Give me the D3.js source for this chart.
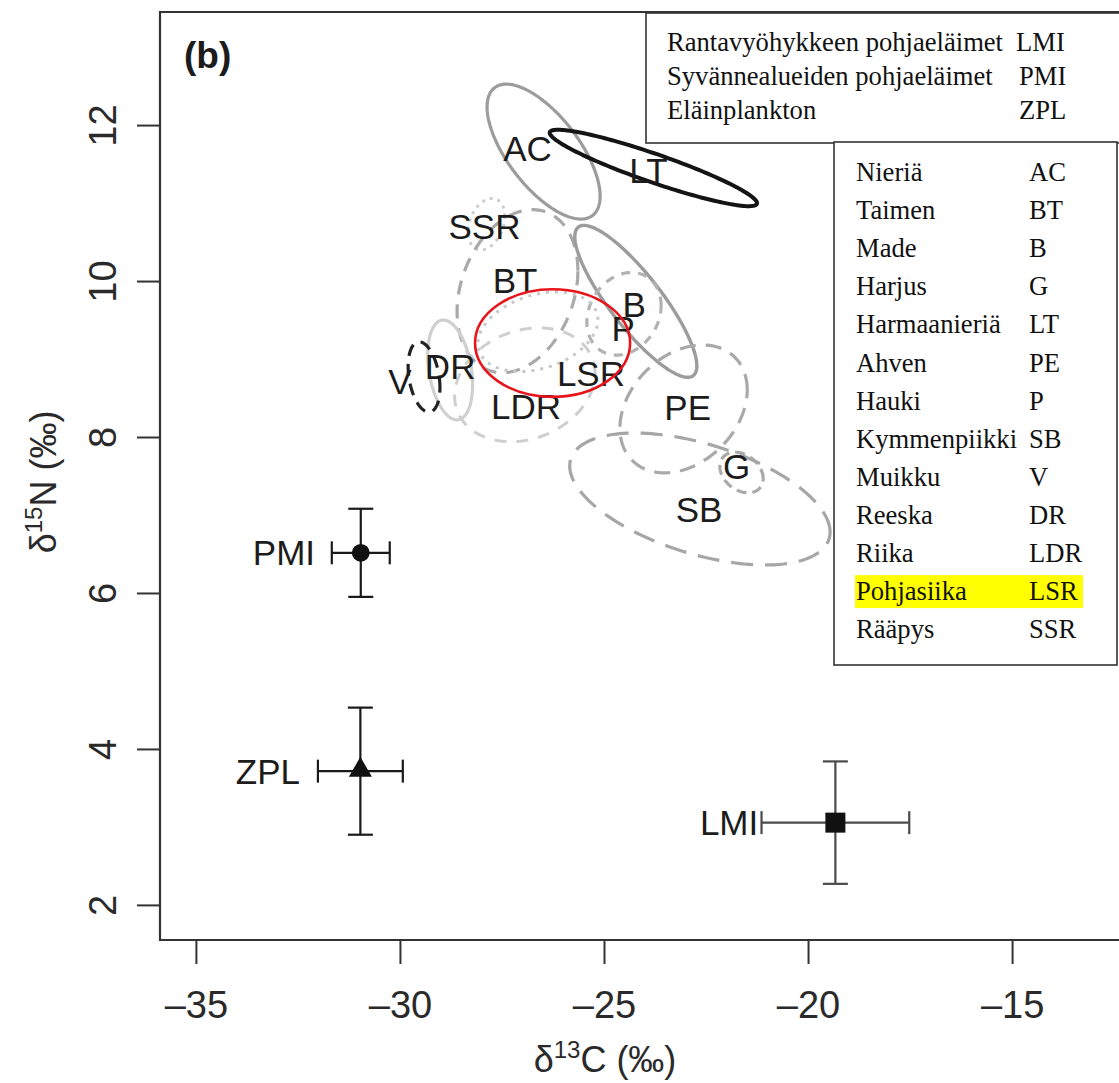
<!DOCTYPE html>
<html><head><meta charset="utf-8">
<script src="https://cdn.jsdelivr.net/npm/d3@7"></script>
<style>html,body{margin:0;padding:0;background:#fff}</style>
</head><body>
<svg id="chart" width="1119" height="1083"></svg>
<script>
// ---------- data ----------
const xTicks = [-35, -30, -25, -20, -15];
const yTicks = [2, 4, 6, 8, 10, 12];

const ellipseCodes = ["AC", "LT", "SSR", "BT", "B", "P", "DR", "V", "LSR", "LDR", "PE", "G", "SB"];
const ellipseCX   = [-26.48, -23.79, -27.88, -27.12, -24.22, -24.51, -28.77, -29.41, -26.62, -26.94, -23.05, -21.63, -22.65];
const ellipseCY   = [11.66, 11.45, 10.73, 9.87, 9.74, 9.58, 8.86, 8.77, 9.35, 8.67, 8.36, 7.545, 7.205];
const ellipseSX   = [1.385, 2.54, 0.45, 1.48, 1.495, 0.91, 0.55, 0.39, 1.47, 1.72, 1.56, 0.53, 3.19];
const ellipseSY   = [0.865, 0.49, 0.33, 1.045, 0.974, 0.53, 0.64, 0.45, 0.51, 0.73, 0.82, 0.26, 0.846];
const ellipseRho  = [-0.66, -0.92, 0.3, 0.25, -0.85, 0.2, -0.3, -0.3, 0.3, 0.2, 0.3, -0.3, -0.5];
const labelX      = [-26.875, -23.91, -27.93, -27.18, -24.26, -24.53, -28.77, -30.0, -25.32, -26.91, -22.95, -21.75, -22.67];
const labelY      = [11.70, 11.42, 10.70, 10.01, 9.70, 9.39, 8.90, 8.71, 8.81, 8.39, 8.38, 7.62, 7.07];

const srcCodes  = ["PMI", "ZPL", "LMI"];
const srcX      = [-30.96, -30.97, -19.33];
const srcY      = [6.515, 3.715, 3.055];
const srcErrX   = [0.71, 1.04, 1.81];
const srcErrY   = [0.565, 0.815, 0.785];
const srcLabelX = [-32.08, -32.45, -21.22];

const highlight = {cx: -26.26, cy: 9.205, rx: 1.90, ry: 0.69};

const legend1Names = ["Rantavyöhykkeen pohjaeläimet", "Syvännealueiden pohjaeläimet", "Eläinplankton"];
const legend1Codes = ["LMI", "PMI", "ZPL"];
const legend2Names = ["Nieriä", "Taimen", "Made", "Harjus", "Harmaanieriä", "Ahven", "Hauki", "Kymmenpiikki", "Muikku", "Reeska", "Riika", "Pohjasiika", "Rääpys"];
const legend2Codes = ["AC", "BT", "B", "G", "LT", "PE", "P", "SB", "V", "DR", "LDR", "LSR", "SSR"];
const legend2Highlight = "LSR";

// ---------- styles ----------
const ellStyle = {
  AC:  {c: "#9c9c9c", w: 3.2, d: null},
  LT:  {c: "#141414", w: 4,   d: null},
  SSR: {c: "#cdcdcd", w: 3,   d: "3,5"},
  BT:  {c: "#a9a9a9", w: 3.2, d: "14,10"},
  B:   {c: "#9c9c9c", w: 3.4, d: null},
  P:   {c: "#b2b2b2", w: 3.2, d: "9,8"},
  DR:  {c: "#d0d0d0", w: 3.2, d: null},
  V:   {c: "#222222", w: 3.2, d: "12,8"},
  LSR: {c: "#c8c8c8", w: 3,   d: "3,6"},
  LDR: {c: "#cfcfcf", w: 3,   d: "12,10"},
  PE:  {c: "#a9a9a9", w: 3.2, d: "16,10"},
  G:   {c: "#a9a9a9", w: 3.2, d: "10,6"},
  SB:  {c: "#a6a6a6", w: 3.2, d: "22,12"}
};
const SANS = "'Liberation Sans', Arial, Helvetica, sans-serif";
const SERIF = "'Liberation Serif', 'Times New Roman', serif";

// ---------- layout ----------
const W = 1119, H = 1083;
const plot = {left: 160, right: 1119, top: 12, bottom: 940};
const x = d3.scaleLinear().domain([-35.88, -12.38]).range([plot.left, plot.right]);
const y = d3.scaleLinear().domain([1.55, 13.45]).range([plot.bottom, plot.top]);

const svg = d3.select("#chart");
svg.append("rect").attr("width", W).attr("height", H).attr("fill", "#fff");

// ellipses
const line = d3.line().x(d => x(d[0])).y(d => y(d[1])).curve(d3.curveLinearClosed);
const gEll = svg.append("g");
ellipseCodes.forEach((code, i) => {
  const pts = [];
  const r = ellipseRho[i], s = Math.sqrt(1 - r * r);
  for (let k = 0; k < 180; k++) {
    const t = 2 * Math.PI * k / 180;
    pts.push([ellipseCX[i] + ellipseSX[i] * Math.cos(t),
              ellipseCY[i] + ellipseSY[i] * (r * Math.cos(t) + s * Math.sin(t))]);
  }
  const st = ellStyle[code];
  gEll.append("path").attr("d", line(pts)).attr("fill", "none")
    .attr("stroke", st.c).attr("stroke-width", st.w)
    .attr("stroke-dasharray", st.d).attr("stroke-linecap", "butt");
});

// ellipse labels
const gLab = svg.append("g").attr("font-family", SANS).attr("font-size", 35).attr("fill", "#1c1c1c");
ellipseCodes.forEach((code, i) => {
  gLab.append("text").attr("x", x(labelX[i])).attr("y", y(labelY[i]))
    .attr("text-anchor", "middle").attr("dy", "0.36em").text(code);
});

// source points with error bars
const gSrc = svg.append("g");
srcCodes.forEach((code, i) => {
  const col = code === "LMI" ? "#4a4a4a" : "#1a1a1a";
  const cx = x(srcX[i]), cy = y(srcY[i]);
  const x0 = x(srcX[i] - srcErrX[i]), x1 = x(srcX[i] + srcErrX[i]);
  const y0 = y(srcY[i] - srcErrY[i]), y1 = y(srcY[i] + srcErrY[i]);
  const g = gSrc.append("g").attr("stroke", col).attr("stroke-width", 2.2);
  g.append("line").attr("x1", x0).attr("x2", x1).attr("y1", cy).attr("y2", cy);
  g.append("line").attr("x1", cx).attr("x2", cx).attr("y1", y0).attr("y2", y1);
  g.append("line").attr("x1", x0).attr("x2", x0).attr("y1", cy - 11.5).attr("y2", cy + 11.5);
  g.append("line").attr("x1", x1).attr("x2", x1).attr("y1", cy - 11.5).attr("y2", cy + 11.5);
  g.append("line").attr("x1", cx - 12.5).attr("x2", cx + 12.5).attr("y1", y0).attr("y2", y0);
  g.append("line").attr("x1", cx - 12.5).attr("x2", cx + 12.5).attr("y1", y1).attr("y2", y1);
  const symType = code === "PMI" ? d3.symbolCircle : code === "ZPL" ? d3.symbolTriangle : d3.symbolSquare;
  const size = code === "PMI" ? 250 : code === "ZPL" ? 230 : 400;
  gSrc.append("path").attr("d", d3.symbol().type(symType).size(size)())
    .attr("transform", `translate(${cx},${code === "ZPL" ? cy - 1 : cy})`).attr("fill", "#111");
  gSrc.append("text").attr("x", x(srcLabelX[i])).attr("y", cy).attr("dy", "0.36em")
    .attr("text-anchor", "end").attr("font-family", SANS).attr("font-size", 35)
    .attr("fill", "#1c1c1c").text(code);
});

// highlight ellipse (red)
svg.append("ellipse").attr("cx", x(highlight.cx)).attr("cy", y(highlight.cy))
  .attr("rx", x(highlight.cx + highlight.rx) - x(highlight.cx))
  .attr("ry", y(highlight.cy) - y(highlight.cy + highlight.ry))
  .attr("fill", "none").attr("stroke", "#e8141c").attr("stroke-width", 2.6);

// axes
const axCol = "#333";
const gx = svg.append("g").attr("transform", `translate(0,${plot.bottom})`)
  .call(d3.axisBottom(x).tickValues(xTicks).tickSize(24).tickPadding(8)
        .tickFormat(d => String(d).replace("-", "\u2013")));
gx.select(".domain").remove();
gx.selectAll("line").attr("stroke", axCol).attr("stroke-width", 2);
gx.selectAll("text").attr("font-family", SANS).attr("font-size", 38).attr("fill", "#2a2a2a")
  .attr("dy", null).attr("y", 78);

const gy = svg.append("g").attr("transform", `translate(${plot.left},0)`)
  .call(d3.axisLeft(y).tickValues(yTicks).tickSize(23));
gy.select(".domain").remove();
gy.selectAll("line").attr("stroke", axCol).attr("stroke-width", 2);
gy.selectAll("text").attr("font-family", SANS).attr("font-size", 38).attr("fill", "#2a2a2a")
  .attr("x", 0).attr("y", 0).attr("dy", null).attr("text-anchor", "middle")
  .attr("transform", "translate(-44,0) rotate(-90)");

// frame (left, top, bottom)
svg.append("path").attr("d", `M${plot.right},${plot.top}H${plot.left}V${plot.bottom}H${plot.right}`)
  .attr("fill", "none").attr("stroke", axCol).attr("stroke-width", 2.2);

// axis titles
const xt = svg.append("text").attr("x", 605).attr("y", 1072).attr("text-anchor", "middle")
  .attr("font-family", SANS).attr("font-size", 36).attr("fill", "#2a2a2a");
xt.append("tspan").text("\u03b4");
xt.append("tspan").attr("font-size", 24).attr("dy", -14).text("13");
xt.append("tspan").attr("dy", 14).text("C (\u2030)");

const yt = svg.append("text").attr("transform", "translate(56,482) rotate(-90)").attr("text-anchor", "middle")
  .attr("font-family", SANS).attr("font-size", 36).attr("fill", "#2a2a2a");
yt.append("tspan").text("\u03b4");
yt.append("tspan").attr("font-size", 24).attr("dy", -14).text("15");
yt.append("tspan").attr("dy", 14).text("N (\u2030)");

svg.append("text").attr("x", 184).attr("y", 68).attr("font-family", SANS).attr("font-size", 37)
  .attr("font-weight", "bold").attr("fill", "#1c1c1c").text("(b)");

// legends
const LFS = 26.6;
const lg1 = svg.append("g");
lg1.append("rect").attr("x", 646).attr("y", 13).attr("width", 476).attr("height", 130)
  .attr("fill", "#fff").attr("stroke", "#333").attr("stroke-width", 1.6);
legend1Names.forEach((n, i) => {
  lg1.append("text").attr("x", 667).attr("y", 51 + i * 34).attr("font-family", SERIF)
    .attr("font-size", LFS).attr("fill", "#111").text(n);
  lg1.append("text").attr("x", i === 0 ? 1016 : 1019).attr("y", 51 + i * 34).attr("font-family", SERIF)
    .attr("font-size", LFS).attr("fill", "#111").text(legend1Codes[i]);
});

const lg2 = svg.append("g");
lg2.append("rect").attr("x", 834).attr("y", 142).attr("width", 283).attr("height", 523)
  .attr("fill", "#fff").attr("stroke", "#333").attr("stroke-width", 1.6);
legend2Names.forEach((n, i) => {
  const by = 181 + i * 38.1;
  if (legend2Codes[i] === legend2Highlight) {
    lg2.append("rect").attr("x", 855).attr("y", by - 25).attr("width", 228).attr("height", 33)
      .attr("fill", "#ffff00");
  }
  lg2.append("text").attr("x", 856).attr("y", by).attr("font-family", SERIF)
    .attr("font-size", LFS).attr("fill", "#111").text(n);
  lg2.append("text").attr("x", 1029).attr("y", by).attr("font-family", SERIF)
    .attr("font-size", LFS).attr("fill", "#111").text(legend2Codes[i]);
});
</script>
</body></html>
